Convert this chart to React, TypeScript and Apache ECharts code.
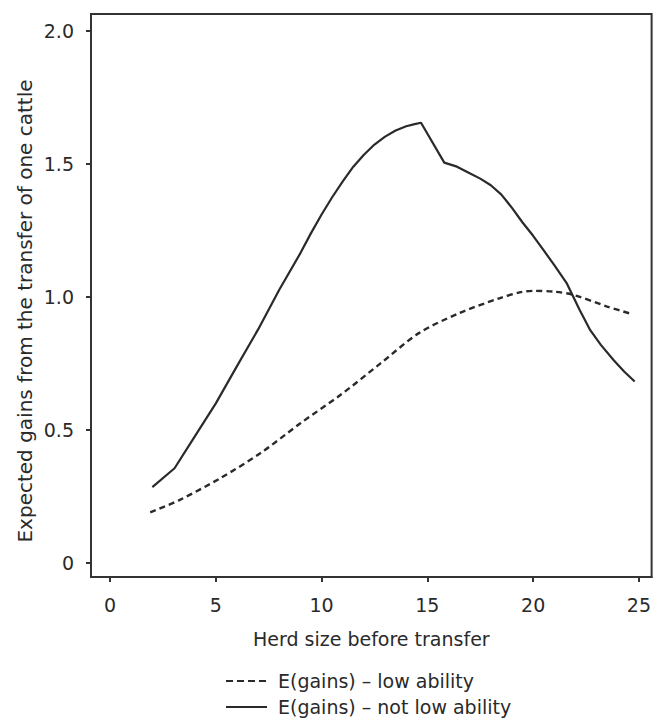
import React, { useEffect, useRef } from "react";
import * as echarts from "echarts";

// Axis ticks
const xTicks = [0, 5, 10, 15, 20, 25];
const yTicks = [0, 0.5, 1, 1.5, 2];

// E(gains) for low-ability farmers, by herd size before transfer
const lowHerd = [1.9, 3.3, 5.2, 7.1, 9.0, 10.9, 12.8, 14.6, 16.5, 18.4, 19.4, 20.0, 21.0, 21.9, 23.5, 24.7];
const lowGain = [0.19, 0.237, 0.318, 0.412, 0.525, 0.632, 0.751, 0.864, 0.939, 0.995, 1.018, 1.023, 1.02, 1.008, 0.964, 0.935];

// E(gains) for farmers without low ability
const notLowHerd = [
  2.0, 3.05, 4, 5, 6, 7, 8, 9, 9.5, 10, 10.5, 11, 11.5, 12, 12.5, 13, 13.5, 14, 14.4, 14.7,
  15.8, 16.4, 17, 17.5, 18, 18.5, 19, 19.5, 20, 20.5, 21, 21.6, 22.2, 22.7, 23.2, 23.8, 24.3, 24.8,
];
const notLowGain = [
  0.285, 0.356, 0.475, 0.6, 0.74, 0.878, 1.027, 1.165, 1.24, 1.31, 1.375, 1.435, 1.49, 1.535, 1.573, 1.603, 1.626, 1.642, 1.65, 1.655,
  1.505, 1.49, 1.465, 1.445, 1.42, 1.385, 1.335, 1.28, 1.23, 1.175, 1.12, 1.05, 0.951, 0.875, 0.82, 0.763, 0.72, 0.682,
];

const lowName = "E(gains) \u2013 low ability";
const notLowName = "E(gains) \u2013 not low ability";

const FONT = "DejaVu Sans";
const INK = "#2a2a2a";
const DASH = [6, 4];

export default function App() {
  const ref = useRef<HTMLDivElement>(null);

  useEffect(() => {
    if (!ref.current) return;
    const chart = echarts.init(ref.current, undefined, { renderer: "svg" });

    const pairs = (xs: number[], ys: number[]) => xs.map((x, i) => [x, ys[i]]);

    // Legend key: a short line sample followed by the series name
    const legendRow = (name: string, y: number, dash: number[] | null) => [
      {
        type: "line",
        shape: { x1: 226, y1: y, x2: 267, y2: y },
        style: { stroke: INK, lineWidth: 2.2, lineDash: dash || undefined },
      },
      {
        type: "text",
        x: 278,
        y,
        style: { text: name, fontFamily: FONT, fontSize: 19, fill: INK, verticalAlign: "middle" },
      },
    ];

    chart.setOption({
      animation: false,
      backgroundColor: "#ffffff",
      grid: {
        left: 91,
        right: 2,
        top: 14,
        bottom: 145,
        show: true,
        borderColor: "#333",
        borderWidth: 2,
      },
      xAxis: {
        type: "value",
        min: -0.9,
        max: 25.6,
        name: "Herd size before transfer",
        nameLocation: "middle",
        nameGap: 52,
        nameTextStyle: { fontFamily: FONT, fontSize: 19, color: INK },
        axisLine: { show: true, onZero: false, lineStyle: { color: "#333", width: 2 } },
        axisTick: { show: true, length: 5, customValues: xTicks, lineStyle: { color: "#333", width: 2 } },
        axisLabel: { customValues: xTicks, margin: 18, fontFamily: FONT, fontSize: 19, color: INK },
        splitLine: { show: false },
      },
      yAxis: {
        type: "value",
        min: -0.053,
        max: 2.064,
        axisLine: { show: true, onZero: false, lineStyle: { color: "#333", width: 2 } },
        axisTick: { show: true, length: 5, customValues: yTicks, lineStyle: { color: "#333", width: 2 } },
        axisLabel: {
          customValues: yTicks,
          margin: 17,
          fontFamily: FONT,
          fontSize: 19,
          color: INK,
          formatter: (v: number) => (v === 0 ? "0" : v.toFixed(1)),
        },
        splitLine: { show: false },
      },
      graphic: [
        {
          type: "text",
          x: 25,
          y: 311,
          rotation: Math.PI / 2,
          style: {
            text: "Expected gains from the transfer of one cattle",
            fontFamily: FONT,
            fontSize: 20,
            fill: INK,
            align: "center",
            verticalAlign: "middle",
          },
        },
        ...legendRow(lowName, 681, [7, 4]),
        ...legendRow(notLowName, 707, null),
      ],
      series: [
        {
          name: lowName,
          type: "line",
          data: pairs(lowHerd, lowGain),
          smooth: 0.3,
          symbol: "none",
          lineStyle: { color: INK, width: 2.4, type: DASH },
          itemStyle: { color: INK },
        },
        {
          name: notLowName,
          type: "line",
          data: pairs(notLowHerd, notLowGain),
          symbol: "none",
          lineStyle: { color: INK, width: 2.2, type: "solid" },
          itemStyle: { color: INK },
        },
      ],
    });

    return () => chart.dispose();
  }, []);

  return (
    <div
      ref={ref}
      style={{ position: "absolute", left: 0, top: 0, width: 654, height: 722 }}
    />
  );
}
